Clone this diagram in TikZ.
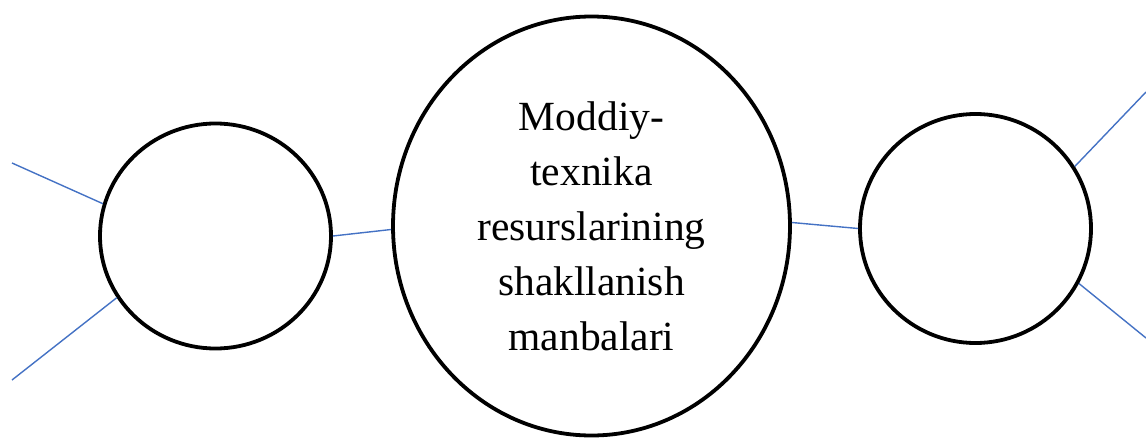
\documentclass[tikz,border=0pt]{standalone}
\usepackage{fontspec}
\setmainfont{Liberation Serif}
\usetikzlibrary{shapes.geometric}
\definecolor{linkblue}{HTML}{4472C4}
\tikzset{
  bubble/.style={ellipse, draw=black, line width=3.8pt, inner sep=0pt, fill=white},
  link/.style={draw=linkblue, line width=1.4pt}
}
\begin{document}
\begin{tikzpicture}[x=1pt,y=-1pt]
\useasboundingbox (0,0) rectangle (1146,439);
\node[bubble, minimum width=397pt, minimum height=419pt, align=center,
      font=\fontsize{41.5pt}{55pt}\selectfont] (E) at (591.5,226)
  {Moddiy-\\texnika\\resurslarining\\shakllanish\\manbalari};
\node[bubble, minimum width=231pt, minimum height=225pt] (L) at (215.5,236) {};
\node[bubble, minimum width=231pt, minimum height=229pt] (R) at (975.5,228.5) {};
\coordinate (lt) at (12,163);
\coordinate (lb) at (12,380);
\coordinate (rt) at (1146,92);
\coordinate (rb) at (1146,338);
\draw[link] (lt) -- (L.164);
\draw[link] (lb) -- (L.212);
\draw[link] (L.0) -- (E.181);
\draw[link] (E.1.5) -- (R.180);
\draw[link] (R.32) -- (rt);
\draw[link] (R.-28) -- (rb);
\end{tikzpicture}
\end{document}
